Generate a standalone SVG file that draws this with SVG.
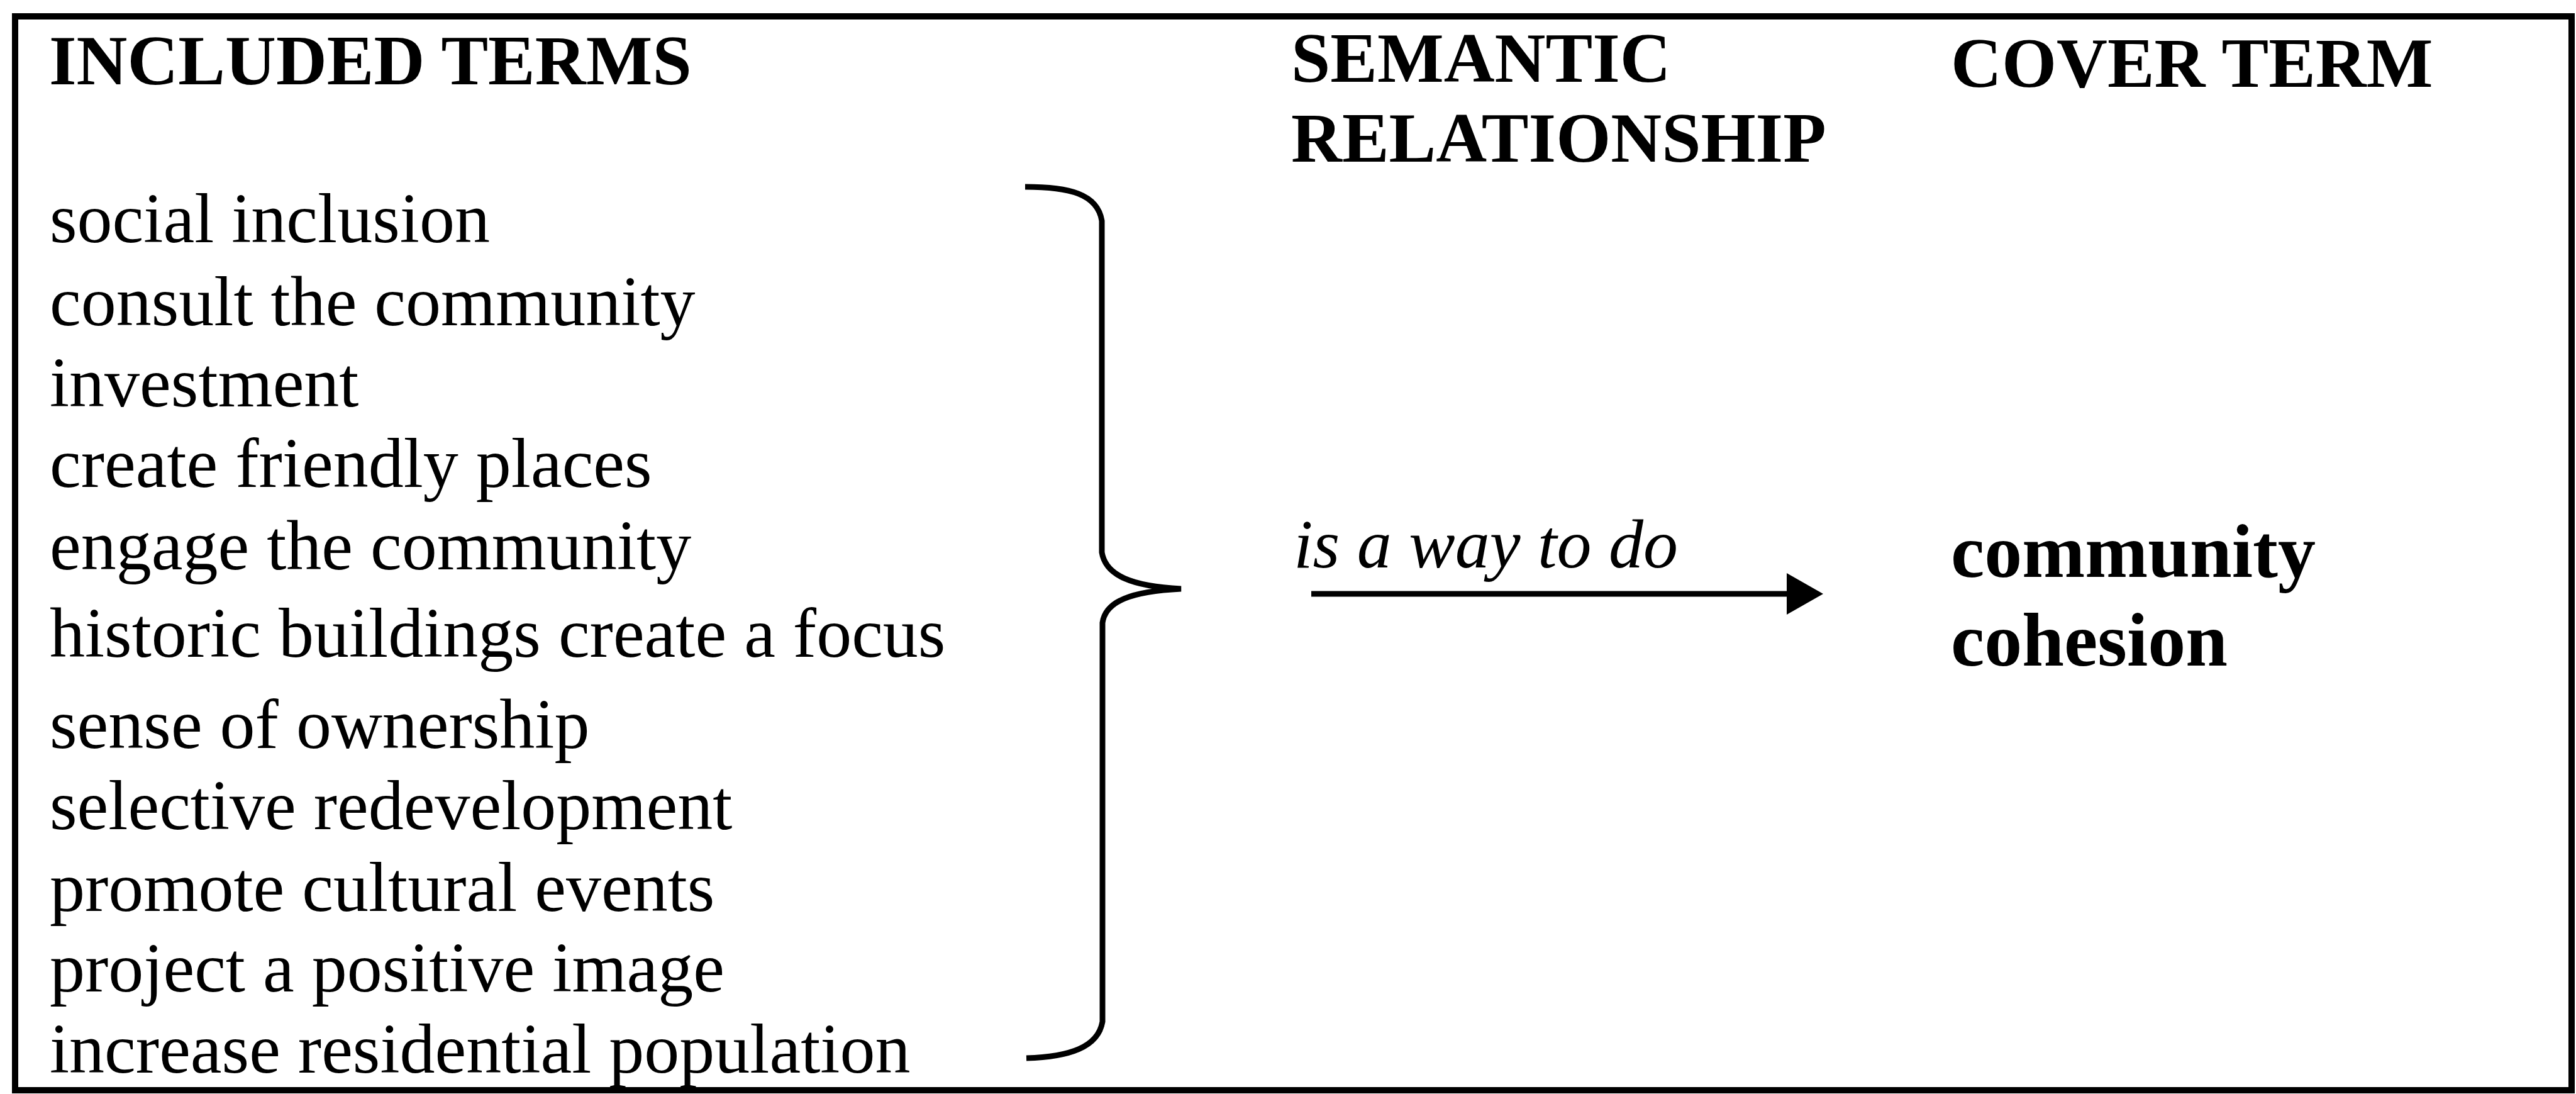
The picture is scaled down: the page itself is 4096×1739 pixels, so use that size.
<svg xmlns="http://www.w3.org/2000/svg" width="4096" height="1739" viewBox="0 0 4096 1739">
<style>
text{font-family:"Liberation Serif","Times New Roman",serif;fill:#000}
.h{font-weight:bold;font-size:112px}
.t{font-size:112px}
.c{font-weight:bold;font-size:120px}
.r{font-style:italic;font-size:110px}
.ln{fill:none;stroke:#000}
</style>
<defs>
<marker id="ah" viewBox="0 0 58 66" markerWidth="58" markerHeight="66" refX="9" refY="33" orient="auto" markerUnits="userSpaceOnUse">
<path d="M0,0 L58,33 L0,66 z" fill="#000"/>
</marker>
</defs>
<rect width="4096" height="1739" fill="#fff"/>
<g id="frame">
<rect x="24" y="26" width="4065" height="1707" class="ln" stroke-width="10"/>
</g>
<g id="headers">
<text class="h" x="78" y="134">INCLUDED TERMS</text>
<text class="h" x="2053" y="130">SEMANTIC</text>
<text class="h" x="2053" y="257">RELATIONSHIP</text>
<text class="h" x="3102" y="138">COVER TERM</text>
</g>
<g id="included-terms">
<text class="t" x="79" y="385">social inclusion</text>
<text class="t" x="79" y="517">consult the community</text>
<text class="t" x="79" y="646">investment</text>
<text class="t" x="79" y="774">create friendly places</text>
<text class="t" x="79" y="905">engage the community</text>
<text class="t" x="79" y="1044">historic buildings create a focus</text>
<text class="t" x="79" y="1189">sense of ownership</text>
<text class="t" x="79" y="1318">selective redevelopment</text>
<text class="t" x="79" y="1448">promote cultural events</text>
<text class="t" x="79" y="1576">project a positive image</text>
<text class="t" x="79" y="1705">increase residential population</text>
</g>
<g id="cover-term">
<text class="c" x="3102" y="917">community</text>
<text class="c" x="3102" y="1058">cohesion</text>
</g>
<g id="connectors">
<path id="brace" class="ln" stroke-width="9" d="M1630,297 C1700,297 1745,308 1752,351 L1752,878 C1758,915 1800,932 1878,936 C1800,940 1758,955 1753,990 L1753,1624 C1746,1665 1700,1680 1632,1682"/>
<line id="arrow" x1="2085" y1="944" x2="2850" y2="944" class="ln" stroke-width="9" marker-end="url(#ah)"/>
<text class="r" x="2057" y="902">is a way to do</text>
</g>
</svg>
